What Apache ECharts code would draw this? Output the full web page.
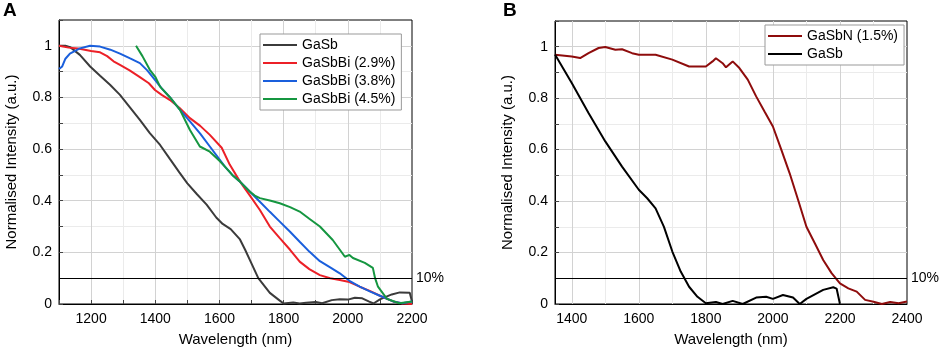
<!DOCTYPE html>
<html>
<head>
<meta charset="utf-8">
<script src="https://cdn.jsdelivr.net/npm/echarts@6/dist/echarts.min.js"></script>
<style>
  html, body { margin: 0; padding: 0; background: #fff; }
  #container { width: 941px; height: 358px; }
</style>
</head>
<body>
<div id="container"></div>
<script>
// panel A
var gasbA_x = [1100, 1120, 1135, 1165, 1197, 1228, 1259, 1290, 1321, 1352, 1383, 1415, 1446, 1475, 1500, 1530, 1560, 1590, 1610, 1635, 1664, 1680, 1695, 1721, 1757, 1788, 1800, 1830, 1850, 1870, 1900, 1920, 1950, 1975, 2000, 2022, 2045, 2065, 2080, 2100, 2137, 2162, 2193, 2200];
var gasbA_y = [1.0, 1.0, 0.995, 0.965, 0.92, 0.884, 0.849, 0.81, 0.762, 0.713, 0.662, 0.616, 0.561, 0.51, 0.467, 0.425, 0.385, 0.335, 0.31, 0.29, 0.25, 0.21, 0.17, 0.10, 0.043, 0.013, 0.002, 0.006, 0.002, 0.005, 0.008, 0.003, 0.015, 0.018, 0.017, 0.024, 0.022, 0.01, 0.002, 0.018, 0.037, 0.045, 0.044, 0.01];

var bi29_x = [1100, 1130, 1160, 1200, 1228, 1250, 1270, 1290, 1320, 1352, 1380, 1399, 1420, 1446, 1475, 1508, 1540, 1570, 1607, 1632, 1664, 1695, 1726, 1757, 1788, 1820, 1850, 1880, 1913, 1945, 1975, 2005, 2037, 2070, 2100, 2141, 2170, 2200];
var bi29_y = [1.0, 0.993, 0.99, 0.98, 0.975, 0.96, 0.94, 0.926, 0.905, 0.879, 0.855, 0.829, 0.81, 0.79, 0.76, 0.72, 0.69, 0.655, 0.605, 0.54, 0.474, 0.42, 0.364, 0.30, 0.255, 0.21, 0.164, 0.135, 0.112, 0.1, 0.093, 0.085, 0.067, 0.05, 0.032, 0.01, 0.002, 0.0];

var bi38_x = [1100, 1110, 1120, 1134, 1165, 1197, 1228, 1260, 1290, 1320, 1352, 1375, 1399, 1420, 1446, 1477, 1508, 1540, 1570, 1617, 1640, 1664, 1695, 1726, 1757, 1788, 1820, 1850, 1880, 1913, 1945, 1975, 2005, 2037, 2070, 2100, 2141, 2170, 2200];
var bi38_y = [0.91, 0.92, 0.95, 0.97, 0.99, 1.0, 0.997, 0.985, 0.97, 0.952, 0.933, 0.905, 0.868, 0.835, 0.80, 0.752, 0.707, 0.66, 0.61, 0.532, 0.50, 0.474, 0.435, 0.396, 0.357, 0.319, 0.28, 0.241, 0.203, 0.166, 0.142, 0.119, 0.09, 0.067, 0.048, 0.032, 0.01, 0.003, 0.01];

var bi45_x = [1340, 1360, 1383, 1400, 1415, 1446, 1477, 1508, 1539, 1570, 1600, 1617, 1640, 1664, 1695, 1710, 1726, 1760, 1788, 1820, 1850, 1880, 1913, 1953, 1991, 2005, 2016, 2053, 2078, 2085, 2094, 2122, 2160, 2200];
var bi45_y = [1.0, 0.96, 0.907, 0.88, 0.842, 0.80, 0.752, 0.674, 0.61, 0.59, 0.555, 0.532, 0.50, 0.474, 0.435, 0.42, 0.41, 0.40, 0.39, 0.375, 0.358, 0.33, 0.30, 0.248, 0.183, 0.19, 0.178, 0.159, 0.14, 0.1, 0.067, 0.02, 0.003, 0.01];

// panel B
var gasbn_x = [1350, 1400, 1425, 1450, 1480, 1500, 1530, 1550, 1580, 1600, 1650, 1700, 1750, 1800, 1820, 1830, 1850, 1860, 1880, 1900, 1925, 1950, 1975, 2000, 2025, 2050, 2075, 2100, 2125, 2150, 2175, 2200, 2225, 2250, 2275, 2300, 2325, 2350, 2375, 2400];
var gasbn_y = [0.969, 0.962, 0.956, 0.975, 0.995, 0.999, 0.988, 0.99, 0.975, 0.969, 0.969, 0.95, 0.923, 0.923, 0.943, 0.955, 0.936, 0.92, 0.943, 0.917, 0.872, 0.807, 0.748, 0.69, 0.60, 0.508, 0.405, 0.30, 0.236, 0.171, 0.12, 0.08, 0.061, 0.048, 0.016, 0.009, 0.0, 0.008, 0.003, 0.01];

var gasbB_x = [1350, 1400, 1450, 1500, 1550, 1600, 1625, 1650, 1675, 1700, 1725, 1750, 1775, 1800, 1830, 1850, 1880, 1910, 1950, 1980, 2000, 2030, 2060, 2080, 2100, 2150, 2180, 2190, 2200];
var gasbB_y = [0.97, 0.859, 0.742, 0.632, 0.534, 0.444, 0.411, 0.372, 0.30, 0.204, 0.126, 0.067, 0.028, 0.003, 0.008, 0.0, 0.012, 0.0, 0.025, 0.028, 0.02, 0.035, 0.025, 0.0, 0.02, 0.055, 0.065, 0.06, 0.0];

var yTicks = [0, 0.2, 0.4, 0.6, 0.8, 1];
var threshold = 0.1;

var MAJOR = '#d2d2d2', MINOR = '#ebebeb';
var FONT = 'Liberation Sans, Arial, sans-serif';

function pairs(xs, ys) {
  return xs.map(function (x, i) { return [x, ys[i]]; });
}

function yLabel(v) {
  for (var i = 0; i < yTicks.length; i++) {
    if (Math.abs(yTicks[i] - v) < 1e-6) return String(yTicks[i]);
  }
  return '';
}
function xLabel(v) {
  return (Math.round(v) % 200 === 0) ? String(v) : '';
}

function makeX(idx, min, max, interval, colors, ticks) {
  return {
    gridIndex: idx, type: 'value', min: min, max: max, interval: interval,
    name: 'Wavelength (nm)', nameLocation: 'middle', nameGap: 28,
    nameTextStyle: { color: '#000', fontSize: 15, fontFamily: FONT },
    axisLine: { show: true, lineStyle: { color: '#000', width: 1 } },
    axisTick: { show: ticks, inside: true, length: 4, lineStyle: { color: '#444' } },
    axisLabel: { color: '#000', fontSize: 14, fontFamily: FONT, margin: 8, formatter: xLabel,
                 showMinLabel: true, showMaxLabel: true },
    splitLine: { show: true, showMinLine: false, showMaxLine: false, lineStyle: { color: colors, width: 1 } }
  };
}
function makeY(idx) {
  return {
    gridIndex: idx, type: 'value', min: 0, max: 1.1, interval: 0.1,
    name: 'Normalised Intensity (a.u.)', nameLocation: 'middle', nameGap: 40,
    nameTextStyle: { color: '#000', fontSize: 15, fontFamily: FONT },
    axisLine: { show: true, lineStyle: { color: '#000', width: 1 } },
    axisTick: { show: true, inside: true, length: 4, lineStyle: { color: '#444' } },
    axisLabel: { color: '#000', fontSize: 14, fontFamily: FONT, margin: 7, formatter: yLabel },
    splitLine: { show: true, showMinLine: false, showMaxLine: false, lineStyle: { color: [MINOR, MAJOR], width: 1 } }
  };
}

function line(name, xi, xs, ys, color) {
  return {
    name: name, type: 'line', xAxisIndex: xi, yAxisIndex: xi,
    data: pairs(xs, ys), symbol: 'none', smooth: false,
    lineStyle: { color: color, width: 2 }, itemStyle: { color: color },
    z: 3
  };
}

// 10% reference line
function tenPct() {
  return {
    silent: true, symbol: 'none',
    lineStyle: { color: '#000', width: 1, type: 'solid' },
    label: { show: true, position: 'end', formatter: '10%', color: '#000', fontSize: 14, fontFamily: FONT, distance: 4 },
    data: [{ yAxis: threshold }]
  };
}

var sA1 = line('GaSb', 0, gasbA_x, gasbA_y, '#3b3b3b');
sA1.markLine = tenPct();
var sB1 = line('GaSbN (1.5%)', 1, gasbn_x, gasbn_y, '#8e0c0c');
sB1.markLine = tenPct();

var legendBase = {
  orient: 'vertical', icon: 'rect', itemWidth: 34, itemHeight: 2, itemGap: 4,
  padding: [4, 6, 4, 3], borderColor: '#999', borderWidth: 1, backgroundColor: '#fff',
  textStyle: { color: '#000', fontSize: 14, fontFamily: FONT, lineHeight: 14 }, selectedMode: false
};

var option = {
  backgroundColor: '#fff',
  animation: false,
  title: [
    { text: 'A', left: 3, top: 1, padding: 0, textStyle: { fontSize: 19, fontWeight: 'bold', color: '#000', fontFamily: FONT } },
    { text: 'B', left: 503, top: 1, padding: 0, textStyle: { fontSize: 19, fontWeight: 'bold', color: '#000', fontFamily: FONT } }
  ],
  grid: [
    { left: 59, top: 20, width: 353, height: 284, show: true, borderColor: '#000', borderWidth: 1, backgroundColor: 'transparent' },
    { left: 555, top: 21, width: 352, height: 283, show: true, borderColor: '#000', borderWidth: 1, backgroundColor: 'transparent' }
  ],
  legend: [
    Object.assign({}, legendBase, {
      data: ['GaSb', 'GaSbBi (2.9%)', 'GaSbBi (3.8%)', 'GaSbBi (4.5%)'],
      left: 260, top: 34
    }),
    Object.assign({}, legendBase, {
      data: ['GaSbN (1.5%)', 'GaSb (B)'],
      formatter: function (n) { return n.replace(' (B)', ''); },
      left: 765, top: 25
    })
  ],
  xAxis: [
    makeX(0, 1100, 2200, 100, [MAJOR, MINOR], true),
    makeX(1, 1350, 2400, 50, [MAJOR, 'transparent', MINOR, 'transparent'], false)
  ],
  yAxis: [makeY(0), makeY(1)],
  series: [
    sA1,
    line('GaSbBi (2.9%)', 0, bi29_x, bi29_y, '#ec2027'),
    line('GaSbBi (3.8%)', 0, bi38_x, bi38_y, '#1a5fdc'),
    line('GaSbBi (4.5%)', 0, bi45_x, bi45_y, '#159640'),
    sB1,
    line('GaSb (B)', 1, gasbB_x, gasbB_y, '#000')
  ]
};

var chart = echarts.init(document.getElementById('container'));
chart.setOption(option);
</script>
</body>
</html>
